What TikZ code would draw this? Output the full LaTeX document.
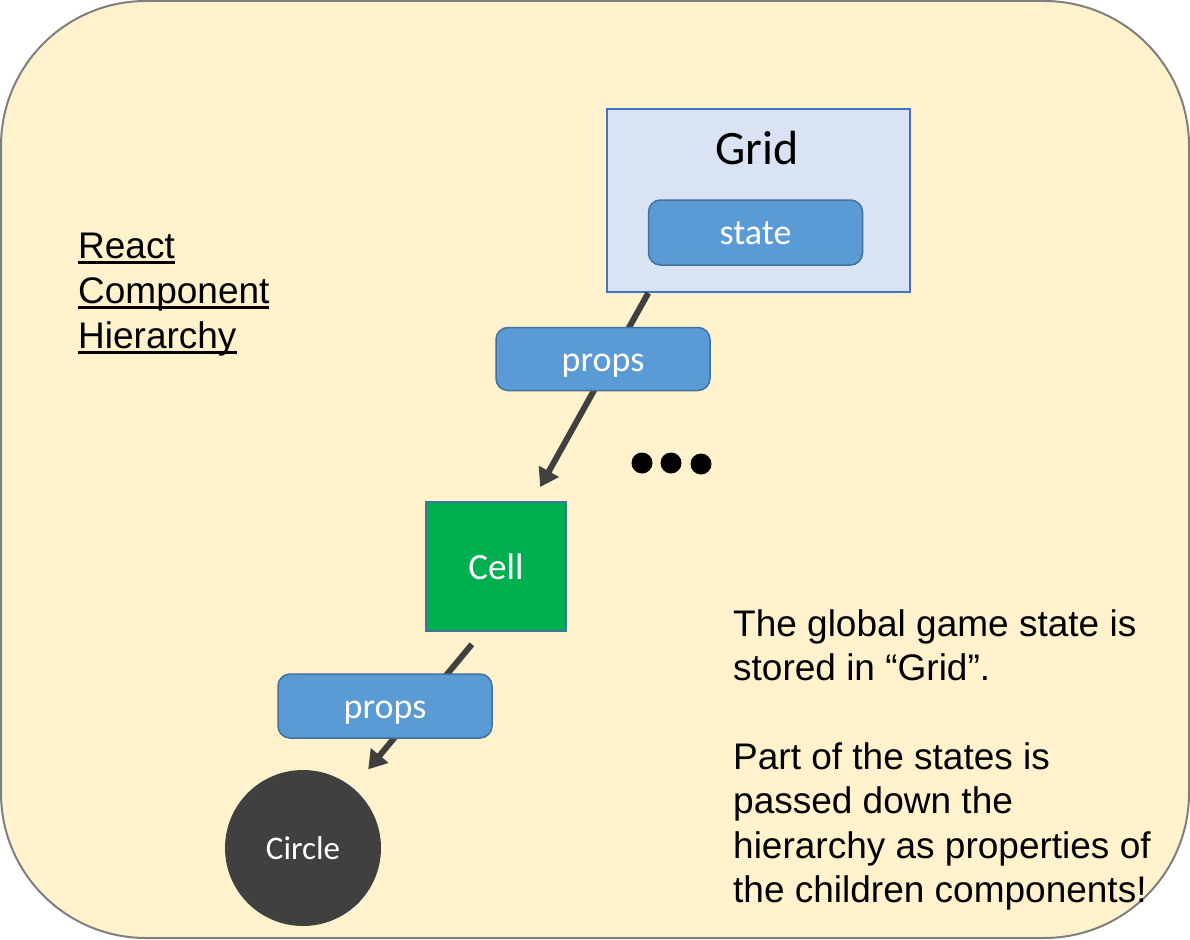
\documentclass[tikz,border=0pt]{standalone}
\usepackage{fontspec}
\setmainfont{Liberation Sans}
\newfontfamily\calibri{Carlito}
\usetikzlibrary{arrows.meta,positioning}

\definecolor{fond}{HTML}{FFF2CC}
\definecolor{bordfond}{HTML}{7F7F7F}
\definecolor{gridfill}{HTML}{DAE3F3}
\definecolor{gridbord}{HTML}{4472C4}
\definecolor{bleu}{HTML}{5B9BD5}
\definecolor{bleubord}{HTML}{41719C}
\definecolor{vert}{HTML}{00B050}
\definecolor{gris}{HTML}{404040}

\newcommand\souligne[1]{\setbox0=\hbox{#1}\rlap{\rule[-5.2pt]{\wd0}{2.6pt}}\box0}

\begin{document}
\begin{tikzpicture}[x=1pt,y=-1pt,
	cal/.code={\pgfmathsetmacro\calh{0.75*#1}\pgfmathsetmacro\cald{0.07*#1}%
		\edef\calset{\noexpand\tikzset{text height=\calh pt,text depth=\cald pt}}\calset
		\tikzset{font=\calibri\fontsize{#1}{#1}\selectfont,inner sep=0pt}},
	boite/.style={draw=bleubord,fill=bleu,line width=1.5pt,rounded corners=12pt,text=white,cal=36,minimum width=214pt,minimum height=63pt},
	fleche/.style={draw=gris,line width=6pt,-{Triangle[length=18pt,width=22pt]}}]
					\useasboundingbox (0,0) rectangle (1190,939);
					
					%FOND
					\draw[fill=fond,draw=bordfond,line width=2pt,rounded corners=145pt] (1,1) rectangle (1189,938);
					
					%TITRE
					\node[anchor=north west,align=left,inner sep=0pt,font=\fontsize{37}{45}\selectfont] (titre) at (78,233) {\souligne{React}\\\souligne{Component}\\\souligne{Hierarchy}};
					
					%GRID
					\node[draw=gridbord,fill=gridfill,line width=2pt,minimum width=303pt,minimum height=183pt,inner sep=0pt] (grid) at (758.5,200.5) {};
					\node[cal=48] (gridtxt) at (757,148) {Grid};
					\node[boite,minimum height=65pt] (state) at (755.5,232.5) {state};
					
					%CELL ET CIRCLE
					\node[draw=bleubord,fill=vert,line width=2pt,minimum width=140pt,minimum height=129pt,text=white,cal=37] (cell) at (496,566.5) {Cell};
					\node[circle,fill=gris,minimum size=156pt,text=white,cal=33] (circ) at (303,848) {Circle};
					
					%FLECHES
					\draw[fleche,shorten >=16pt] (grid.220) -- (cell);
					\draw[fleche,shorten <=16pt,shorten >=24pt] (cell.258) -- (circ);
					
					%PROPS
					\node[boite] (props1) at (603,359) {props};
					\node[boite,minimum height=64pt] (props2) at (385,706) {props};
					
					%POINTS
					\foreach \x/\y in {642/463,671/463,701/464}
						\fill (\x,\y) circle (10.5pt);
					
					%TEXTE
					\node[anchor=north west,align=left,inner sep=0pt,font=\fontsize{37}{44.3}\selectfont] (texte) at (733,609.5) {The global game state is\\stored in “Grid”.\\[44.3pt]Part of the states is\\passed down the\\hierarchy as properties of\\the children components!};
\end{tikzpicture}
\end{document}
